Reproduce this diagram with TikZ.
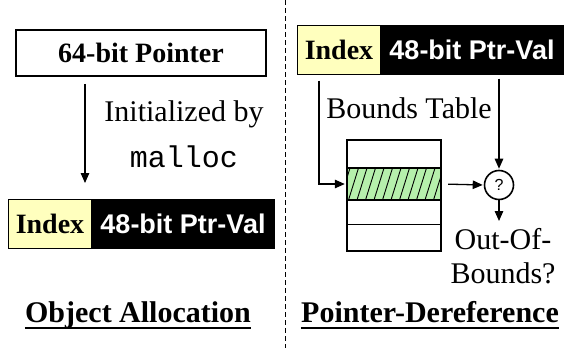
\documentclass[tikz,border=0pt]{standalone}
\usepackage{fontspec}
\setmainfont{Liberation Serif}
\setsansfont{Liberation Sans}
\setmonofont{Liberation Mono}
\usetikzlibrary{arrows.meta,calc}
\definecolor{idxyellow}{RGB}{255,255,190}
\definecolor{rowgreen}{RGB}{182,240,172}
\tikzset{
  conn/.style={line width=1.3pt,-{Triangle[length=10pt,width=8.5pt]}},
  idxbox/.style={draw=black,line width=1pt,fill=idxyellow,minimum height=49pt,inner sep=0pt,
     font=\fontsize{28}{30}\selectfont\bfseries,anchor=west},
  valbox/.style={draw=black,line width=1pt,fill=black,text=white,minimum height=49pt,inner sep=0pt,
     font=\sffamily\bfseries\fontsize{27}{30}\selectfont,anchor=west},
  plain/.style={inner sep=0pt,font=\fontsize{30}{34}\selectfont},
  title/.style={inner sep=0pt,font=\fontsize{30}{34}\selectfont\bfseries},
}
\begin{document}
\begin{tikzpicture}[x=1pt,y=-1pt]
\useasboundingbox (0,0) rectangle (565,348);
% divider
\draw[line width=1pt,dash pattern=on 5pt off 3pt] (285,0) -- (285,348);

% ---------- left panel ----------
\node[draw,line width=1.6pt,minimum width=250pt,minimum height=46pt,inner sep=0pt,
      font=\fontsize{28}{30}\selectfont\bfseries] (ptr) at (141,53) {64-bit Pointer};
\node[idxbox,minimum width=83pt] (lidx) at (8,224) {Index};
\node[valbox,minimum width=183pt] (lval) at (91,224) {48-bit Ptr-Val};
\coordinate (ax) at (85,0);
\draw[conn,shorten <=7pt,shorten >=16pt] (ptr.south -| ax) -- (lidx.north -| ax);
\node[plain,anchor=base] (lab1) at (184,121) {Initialized by};
\node[plain,anchor=base,font=\ttfamily\fontsize{30}{34}\selectfont] (lab2) at (184,167) {malloc};

\node[title,anchor=base] (t1) at (138,322) {Object Allocation};
\draw[line width=2pt] ($(t1.base west)+(0,6)$) -- ($(t1.base east)+(0,6)$);

% ---------- right panel ----------
\node[idxbox,minimum width=83pt] (ridx) at (297,49.5) {Index};
\node[valbox,minimum width=183pt] (rval) at (380,49.5) {48-bit Ptr-Val};
\node[plain,anchor=base] (bt) at (409,118) {Bounds Table};

% table
\coordinate (tl) at (347,140);
\coordinate (br) at (441,251);
\fill[rowgreen] (347,168) rectangle (441,200);
\begin{scope}
  \clip (347,168) rectangle (441,200);
  \foreach \i in {0,...,12} {
    \draw[line width=0.9pt] ($(340,200)+(8.5*\i,0)$) -- ++(10,-32);
  }
\end{scope}
\draw[line width=1.2pt] (347,168) -- (441,168);
\draw[line width=1.2pt] (347,200) -- (441,200);
\draw[line width=1pt] (347,224) -- (441,224);
\draw[line width=2pt] (tl) rectangle (br);
\node[inner sep=0pt,minimum width=94pt,minimum height=32pt] (row) at (394,184) {};

\node[draw,circle,line width=1.6pt,minimum size=29pt,inner sep=0pt,
      font=\sffamily\fontsize{16}{18}\selectfont] (q) at (499,185) {?};

\coordinate (lx) at (319,0);
\draw[conn,shorten <=6pt,shorten >=2pt] (ridx.south -| lx) |- (row.west);
\draw[conn,shorten <=4pt,shorten >=1pt] (rval.south -| q) -- (q.north);
\draw[conn,shorten <=7pt,shorten >=1pt] (row.east) -- (q.west);

\node[plain,align=center,anchor=north] (oob) at (503,228) {Out-Of-\\Bounds?};
\draw[conn,shorten >=7pt] (q.south) -- (oob.north -| q);

\node[title,anchor=base] (t2) at (430,322) {Pointer-Dereference};
\draw[line width=2pt] ($(t2.base west)+(0,6)$) -- ($(t2.base east)+(0,6)$);
\end{tikzpicture}
\end{document}
